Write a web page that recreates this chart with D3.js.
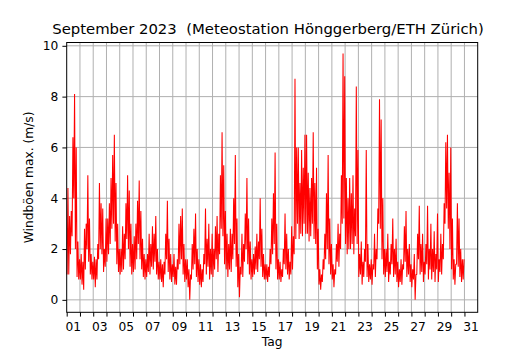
<!DOCTYPE html>
<html>
<head>
<meta charset="utf-8">
<script src="https://cdn.jsdelivr.net/npm/d3@7"></script>
<style>
  body { margin: 0; background: #fff; }
  text { font-family: "DejaVu Sans", sans-serif; fill: #000; white-space: pre; }
</style>
</head>
<body>
<svg></svg>
<script>
// Windböen max. (m/s): per 3-hour slot the top and the bottom of the red band,
// 8 slots a day
var hi01_10 = [
  4.4, 3.3, 3.5, 6.4, 8.1, 6.0, 2.3, 1.6,
  1.8, 1.5, 2.8, 3.0, 4.9, 3.2, 1.8, 1.5,
  1.7, 1.6, 2.2, 4.6, 3.8, 3.6, 2.0, 3.2,
  3.2, 3.8, 4.8, 5.7, 6.5, 4.6, 3.0, 2.0,
  2.0, 2.9, 2.6, 3.8, 4.9, 4.3, 3.0, 2.2,
  2.5, 3.0, 3.9, 4.7, 3.5, 2.4, 1.8, 1.6,
  1.8, 2.6, 2.2, 2.9, 2.6, 3.3, 2.0, 1.5,
  1.6, 1.4, 1.5, 2.6, 3.9, 2.4, 1.8, 1.4,
  1.8, 1.3, 1.6, 3.0, 3.3, 3.6, 2.2, 1.6,
  1.6, 1.2, 1.0, 2.2, 2.8, 3.4, 2.0, 1.6
];
var lo01_10 = [
  1.0, 1.0, 1.8, 2.5, 4.0, 2.0, 0.9, 0.8,
  0.8, 0.6, 0.4, 1.2, 2.0, 1.5, 1.0, 0.8,
  0.8, 0.5, 0.8, 1.6, 2.0, 1.8, 1.1, 1.3,
  1.5, 1.8, 2.2, 2.8, 3.0, 2.3, 1.4, 1.1,
  1.0, 1.1, 1.2, 1.6, 2.4, 2.0, 1.3, 1.0,
  1.1, 1.2, 1.6, 2.2, 1.6, 1.2, 0.9, 0.8,
  0.9, 1.1, 1.0, 1.3, 1.2, 1.5, 1.0, 0.8,
  0.8, 0.7, 0.5, 1.0, 1.6, 1.1, 0.8, 0.7,
  0.9, 0.6, 0.6, 1.2, 1.4, 1.6, 1.0, 0.7,
  0.8, 0.5, 0.0, 0.8, 1.2, 1.4, 0.9, 0.7
];
var hi11_20 = [
  1.4, 1.2, 1.8, 3.6, 2.4, 3.0, 2.0, 2.6,
  2.0, 2.9, 3.3, 2.6, 4.9, 6.6, 5.3, 3.5,
  2.6, 2.2, 2.8, 2.6, 4.0, 5.7, 3.2, 1.8,
  1.3, 2.6, 2.2, 3.4, 4.8, 3.2, 2.3, 1.6,
  1.8, 2.1, 2.6, 2.3, 4.0, 2.8, 1.8, 1.4,
  1.4, 1.3, 2.0, 3.2, 4.2, 5.8, 3.0, 1.6,
  1.5, 1.2, 2.0, 3.4, 2.6, 2.0, 1.5, 2.9,
  2.5, 8.7, 6.0, 6.0, 4.6, 5.9, 5.2, 6.5,
  6.5, 5.0, 4.4, 4.8, 6.6, 4.6, 5.2, 2.8,
  1.2, 1.0, 1.6, 2.6, 4.2, 5.7, 3.2, 2.2
];
var lo11_20 = [
  0.6, 0.5, 0.7, 1.4, 1.0, 1.3, 0.8, 1.0,
  0.9, 1.2, 1.6, 1.1, 1.8, 2.8, 2.5, 1.4,
  1.2, 0.9, 1.2, 1.1, 1.6, 2.2, 1.3, 0.5,
  0.1, 1.0, 0.9, 1.5, 2.0, 1.4, 1.0, 0.8,
  0.9, 1.0, 1.2, 1.1, 1.6, 1.3, 0.9, 0.8,
  0.8, 0.7, 0.9, 1.4, 1.8, 2.2, 1.2, 0.8,
  0.8, 0.7, 0.9, 1.4, 1.2, 1.0, 0.8, 1.0,
  1.2, 1.8, 2.4, 3.0, 2.4, 2.6, 2.5, 3.0,
  2.6, 2.6, 2.3, 2.5, 3.0, 2.4, 2.2, 1.2,
  0.6, 0.4, 0.7, 1.2, 1.6, 2.0, 1.4, 1.0
];
var hi21_30 = [
  1.4, 1.2, 2.2, 3.0, 2.6, 4.9, 9.7, 8.8,
  4.8, 4.0, 4.8, 4.2, 4.9, 3.6, 8.4, 5.9,
  1.8, 2.3, 1.5, 2.0, 5.9, 2.2, 1.4, 1.6,
  1.4, 2.6, 2.0, 3.6, 7.9, 7.1, 4.0, 2.0,
  2.0, 2.6, 1.5, 2.2, 3.2, 2.0, 2.4, 1.5,
  1.2, 1.6, 1.4, 2.9, 3.5, 2.0, 2.2, 1.4,
  1.2, 1.8, 1.0, 2.6, 3.7, 2.2, 2.6, 1.5,
  2.2, 3.7, 2.0, 3.0, 2.0, 2.7, 1.8, 3.4,
  1.6, 2.6, 2.2, 3.8, 6.2, 6.5, 5.0, 6.0,
  3.2, 1.6, 1.4, 3.8, 3.2, 2.0, 1.6, 1.6
];
var lo21_30 = [
  0.8, 0.5, 1.0, 1.5, 1.3, 2.0, 3.0, 3.2,
  2.2, 1.8, 2.0, 2.0, 2.2, 1.8, 2.5, 2.2,
  0.9, 1.0, 0.6, 0.9, 1.5, 0.9, 0.7, 0.8,
  0.6, 1.2, 0.9, 1.6, 3.0, 2.8, 1.6, 1.0,
  0.9, 1.1, 0.7, 1.0, 1.4, 0.9, 1.0, 0.7,
  0.5, 0.7, 0.6, 1.2, 1.5, 0.9, 1.0, 0.7,
  0.5, 0.8, 0.0, 1.0, 1.6, 1.0, 1.1, 0.7,
  1.0, 1.4, 0.8, 1.2, 0.8, 1.1, 0.7, 1.2,
  0.7, 1.1, 1.0, 1.6, 3.0, 3.6, 2.8, 2.0,
  1.2, 0.8, 0.6, 1.4, 1.3, 0.9, 0.7, 0.8
];
var slotsPerDay = 8;
var yTicks = [0, 2, 4, 6, 8, 10];
var dayLabels = ["01", "03", "05", "07", "09", "11", "13", "15", "17", "19", "21", "23", "25", "27", "29", "31"];

var highs = hi01_10.concat(hi11_20, hi21_30);
var lows = lo01_10.concat(lo11_20, lo21_30);
var data = [];
highs.forEach(function(h, i) {
  var t = 1 + i / slotsPerDay;
  data.push({ t: t + 0.25 / slotsPerDay, v: lows[i] });
  data.push({ t: t + 0.75 / slotsPerDay, v: h });
});

var drawChart = function(data) {
  var width = 530;
  var height = 350;
  var left = 66.7, right = 477.7, top = 42.5, bottom = 312.3;

  var svg = d3.select("svg")
    .attr("width", width)
    .attr("height", height);

  var x = d3.scaleLinear().domain([1, 32]).range([left, right]);
  var y = d3.scaleLinear().domain([-0.49, 10.13]).range([bottom, top]);

  // grid
  svg.append("g")
    .selectAll("line")
    .data(d3.range(2, 32))
    .enter()
    .append("line")
    .attr("x1", function(d) { return x(d); })
    .attr("x2", function(d) { return x(d); })
    .attr("y1", top)
    .attr("y2", bottom)
    .attr("stroke", "#b0b0b0")
    .attr("stroke-width", 1);
  svg.append("g")
    .selectAll("line")
    .data(yTicks)
    .enter()
    .append("line")
    .attr("x1", left)
    .attr("x2", right)
    .attr("y1", function(d) { return y(d); })
    .attr("y2", function(d) { return y(d); })
    .attr("stroke", "#b0b0b0")
    .attr("stroke-width", 1);

  // series
  var line = d3.line()
    .x(function(d) { return x(d.t); })
    .y(function(d) { return y(d.v); });
  svg.append("path")
    .datum(data)
    .attr("d", line)
    .attr("fill", "none")
    .attr("stroke", "#ff0000")
    .attr("stroke-width", 1.05)
    .attr("stroke-linejoin", "bevel");

  // axes
  var xAxis = d3.axisBottom(x)
    .tickValues(d3.range(1, 32))
    .tickFormat("")
    .tickSizeInner(4.3)
    .tickSizeOuter(0);
  svg.append("g")
    .attr("transform", "translate(0," + bottom + ")")
    .call(xAxis)
    .call(function(g) { g.select(".domain").remove(); });

  var yAxis = d3.axisLeft(y)
    .tickValues(yTicks)
    .tickSizeInner(4.3)
    .tickSizeOuter(0)
    .tickPadding(4);
  svg.append("g")
    .attr("transform", "translate(" + left + ",0)")
    .call(yAxis)
    .call(function(g) { g.select(".domain").remove(); });

  svg.selectAll(".tick line").attr("stroke", "#000").attr("stroke-width", 1);
  svg.selectAll(".tick text")
    .attr("font-size", 12.25)
    .attr("font-family", "DejaVu Sans")
    .attr("fill", "#000");

  svg.append("g")
    .selectAll("text")
    .data(dayLabels)
    .enter()
    .append("text")
    .text(function(d) { return d; })
    .attr("x", function(d) { return x(+d + 0.5); })
    .attr("y", 331)
    .attr("text-anchor", "middle")
    .attr("font-size", 12.25);

  svg.append("rect")
    .attr("x", left)
    .attr("y", top)
    .attr("width", right - left)
    .attr("height", bottom - top)
    .attr("fill", "none")
    .attr("stroke", "#000")
    .attr("stroke-width", 1);

  svg.append("text")
    .text("September 2023  (Meteostation Hönggerberg/ETH Zürich)")
    .attr("x", 268)
    .attr("y", 33.5)
    .attr("text-anchor", "middle")
    .attr("font-size", 14.85);

  svg.append("text")
    .text("Tag")
    .attr("x", (left + right) / 2)
    .attr("y", 345.5)
    .attr("text-anchor", "middle")
    .attr("font-size", 12.25);

  svg.append("text")
    .text("Windböen max. (m/s)")
    .attr("transform", "translate(33," + (top + bottom) / 2 + ") rotate(-90)")
    .attr("text-anchor", "middle")
    .attr("font-size", 12.25);
};

drawChart(data);
</script>
</body>
</html>
